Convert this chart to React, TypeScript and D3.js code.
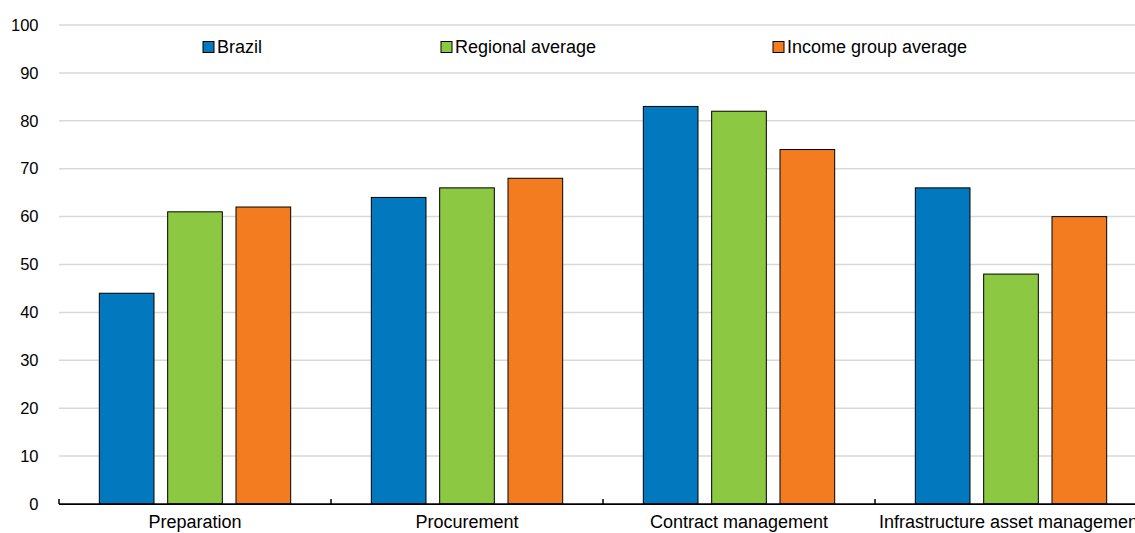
import React from "react";
import * as d3 from "d3";

const categories = ["Preparation", "Procurement", "Contract management", "Infrastructure asset management"];
const seriesNames = ["Brazil", "Regional average", "Income group average"];
const brazil = [44, 64, 83, 66];
const regional = [61, 66, 82, 48];
const income = [62, 68, 74, 60];
const yTicks = [0, 10, 20, 30, 40, 50, 60, 70, 80, 90, 100];
const colors = ["#0279BF", "#8CC841", "#F47C20"];

const W = 1135, H = 533;
const left = 59, right = 1147, top = 25, bottom = 504;
const font = "'Liberation Sans', Arial, sans-serif";

export default function App() {
  const series = [brazil, regional, income];
  const x = d3.scaleBand().domain(categories).range([left, right]).paddingInner(0).paddingOuter(0);
  const inner = d3.scaleBand().domain(seriesNames).range([0, x.bandwidth()]).paddingInner(0.2).paddingOuter(0.59);
  const y = d3.scaleLinear().domain([0, 100]).range([bottom, top]);
  const legendX = [203, 441, 773];
  return (
    <svg width={W} height={H} style={{ position: "absolute", left: 0, top: 0, background: "#fff" }} fontFamily={font}>
      {yTicks.map((t) => (
        <g key={t}>
          {t > 0 && <line x1={left} x2={W} y1={y(t)} y2={y(t)} stroke="#d9d9d9" strokeWidth={1.5} />}
          <text x={38.5} y={y(t)} dy="0.35em" textAnchor="end" fontSize={16.5} fill="#000">{t}</text>
        </g>
      ))}
      {categories.map((c, i) =>
        series.map((s, j) => (
          <rect key={c + j} x={(x(c) as number) + (inner(seriesNames[j]) as number)} y={y(s[i])}
            width={inner.bandwidth()} height={bottom - y(s[i])} fill={colors[j]} stroke="#000" strokeWidth={1} />
        ))
      )}
      <line x1={left} x2={W} y1={bottom} y2={bottom} stroke="#000" strokeWidth={1.75} />
      {categories.map((c, i) => (
        <line key={"t" + i} x1={x(c)} x2={x(c)} y1={bottom} y2={bottom - 5} stroke="#000" strokeWidth={1.5} />
      ))}
      {categories.map((c) => (
        <text key={"l" + c} x={(x(c) as number) + x.bandwidth() / 2} y={528} textAnchor="middle" fontSize={18} fill="#000">{c}</text>
      ))}
      {seriesNames.map((n, j) => (
        <g key={n}>
          <rect x={legendX[j]} y={41.5} width={11} height={11} fill={colors[j]} stroke="#000" strokeWidth={1} />
          <text x={legendX[j] + 14} y={47} dy="0.35em" fontSize={18} fill="#000">{n}</text>
        </g>
      ))}
    </svg>
  );
}
